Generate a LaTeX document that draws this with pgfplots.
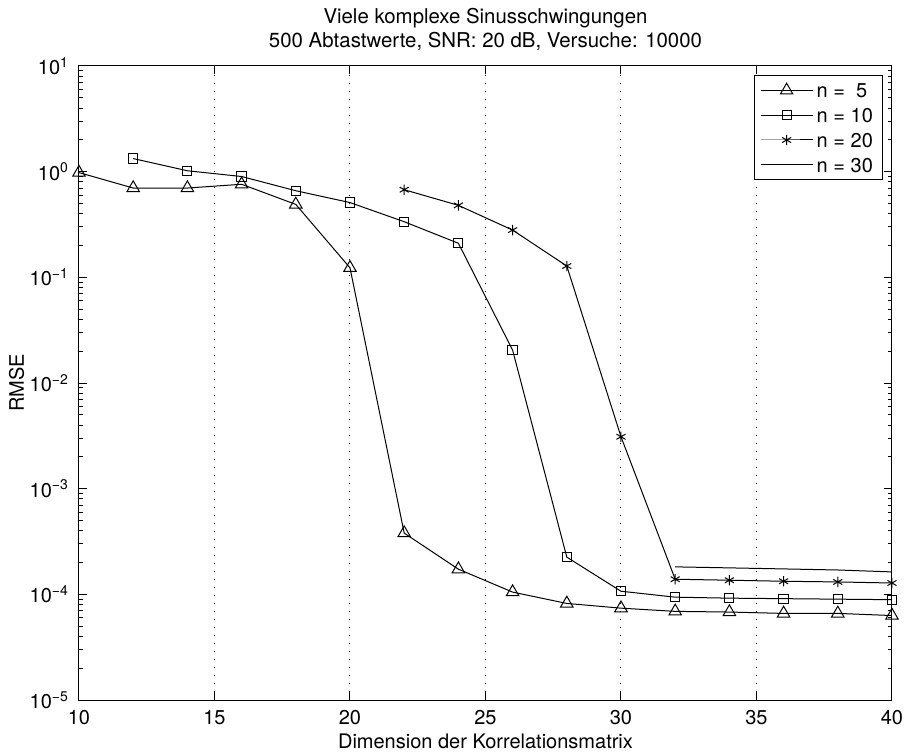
\documentclass[border=0pt]{standalone}
\usepackage{fontspec}
\setmainfont{TeX Gyre Heros}
\usepackage{pgfplots}
\pgfplotsset{compat=1.18}

\begin{document}
\fontsize{10}{12}\selectfont
\begin{tikzpicture}
\useasboundingbox (-39.5pt,-27.5pt) rectangle (414pt,350pt);
\begin{axis}[
  at={(0pt,0pt)}, anchor=south west,
  scale only axis,
  width=406.5pt, height=317pt,
  xmin=10, xmax=40,
  ymode=log, ymin=1e-5, ymax=10,
  clip=false,
  xtick={10,15,...,40},
  ytick={1e-5,1e-4,1e-3,1e-2,1e-1,1,10},
  yticklabels={10\textsuperscript{−5},10\textsuperscript{−4},10\textsuperscript{−3},10\textsuperscript{−2},10\textsuperscript{−1},10\textsuperscript{0},10\textsuperscript{1}},
  /pgf/number format/assume math mode=true,
  xmajorgrids,
  major x grid style={black, line width=0.5pt, dash pattern=on 0.5pt off 3.5pt},
  tick align=inside,
  major tick length=4pt, minor tick length=2pt,
  tick style={black, line width=0.5pt},
  axis line style={line width=0.5pt},
  tick label style={font=\fontsize{10}{12}\selectfont},
  yticklabel style={xshift=-1.5pt},
  xticklabel style={yshift=-1.5pt},
  xlabel={Dimension der Korrelationsmatrix},
  ylabel={RMSE},
  label style={font=\fontsize{10}{12}\selectfont},
  xlabel style={at={(axis description cs:0.5,0)}, anchor=base, yshift=-24pt},
  ylabel style={at={(axis description cs:-0.0677,0.5)}, anchor=base},
  legend style={at={(axis description cs:1,1)}, anchor=north east, xshift=-4.5pt, yshift=-4.5pt,
    draw=black, line width=0.5pt, font=\fontsize{10}{12}\selectfont,
    nodes={inner sep=1.8pt, text depth=0pt, text height=7.3pt},
    row sep=1.5pt, inner xsep=3pt, inner ysep=2pt},
  legend cell align=left,
  legend image code/.code={\draw[mark repeat=2, mark phase=2] plot coordinates {(0pt,0pt) (13pt,0pt) (26pt,0pt)};},
  every axis plot/.append style={black, line width=0.5pt},
]
\addplot[mark=triangle, mark size=3.6pt, mark options={solid}] coordinates {
  (10,0.98) (12,0.70) (14,0.70) (16,0.76) (18,0.49) (20,0.123) (22,3.8e-4) (24,1.73e-4)
  (26,1.05e-4) (28,8.2e-5) (30,7.4e-5) (32,6.9e-5) (34,6.8e-5) (36,6.6e-5) (38,6.6e-5) (40,6.3e-5)
};
\addlegendentry{n = ~5}
\addplot[mark=square, mark size=2.3pt] coordinates {
  (12,1.33) (14,1.02) (16,0.90) (18,0.66) (20,0.51) (22,0.336) (24,0.21) (26,2.05e-2)
  (28,2.25e-4) (30,1.07e-4) (32,9.4e-5) (34,9.2e-5) (36,9.1e-5) (38,9.0e-5) (40,8.9e-5)
};
\addlegendentry{n = 10}
\addplot[mark=asterisk, mark size=2.6pt] coordinates {
  (22,0.675) (24,0.48) (26,0.28) (28,0.128) (30,3.1e-3) (32,1.39e-4) (34,1.36e-4)
  (36,1.33e-4) (38,1.31e-4) (40,1.28e-4)
};
\addlegendentry{n = 20}
\addplot[no marks] coordinates {
  (32,1.82e-4) (34,1.78e-4) (36,1.74e-4) (38,1.70e-4) (40,1.63e-4)
};
\addlegendentry{n = 30}
\node[anchor=base, font=\fontsize{10.2}{12}\selectfont, yshift=21pt] at (axis description cs:0.5,1) {Viele komplexe Sinusschwingungen};
\node[anchor=base, font=\fontsize{10.2}{12}\selectfont, yshift=9pt] at (axis description cs:0.5,1) {500 Abtastwerte, SNR: 20 dB, Versuche: 10000};
\end{axis}
\end{tikzpicture}
\end{document}
